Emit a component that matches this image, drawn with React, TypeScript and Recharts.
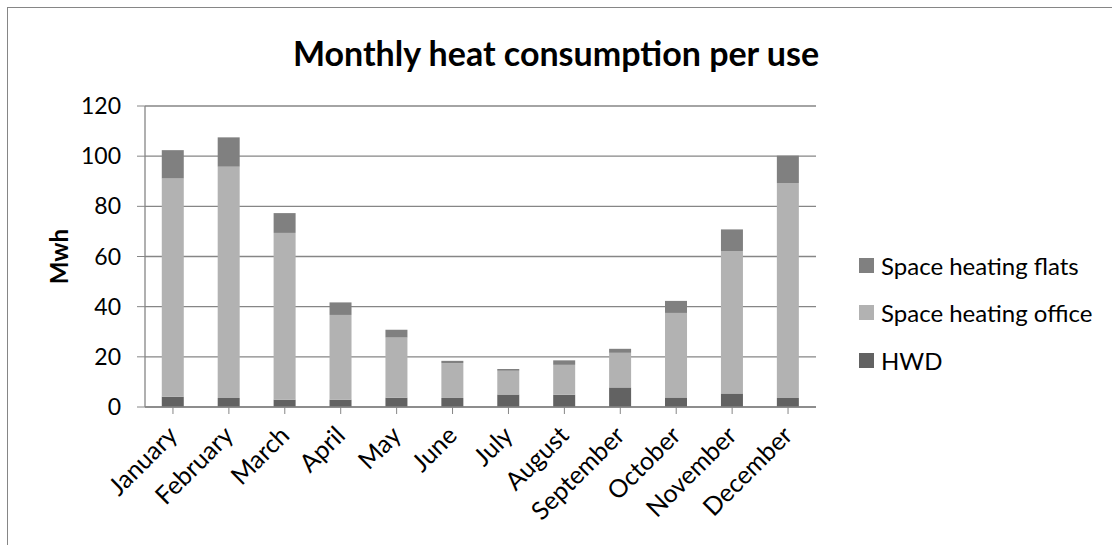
import { BarChart, Bar, XAxis, YAxis, CartesianGrid } from "recharts";

const months = [
  "January", "February", "March", "April", "May", "June",
  "July", "August", "September", "October", "November", "December",
];
const hwd = [4.1, 3.6, 2.9, 2.9, 3.7, 3.6, 5.0, 4.9, 7.8, 3.8, 5.4, 3.6];
const officeHeat = [87.0, 92.2, 66.5, 33.8, 24.0, 13.9, 9.5, 11.9, 13.8, 33.7, 56.8, 85.7];
const flatsHeat = [11.3, 11.7, 7.9, 5.0, 3.1, 0.9, 0.6, 1.8, 1.6, 4.8, 8.6, 10.9];
const yTicks = [0, 20, 40, 60, 80, 100, 120];

const FONT = "Lato, 'Noto Sans', sans-serif";
const AXIS = "#868686";

const series = [
  { key: "hwd", name: "HWD", color: "#626262" },
  { key: "office", name: "Space heating office", color: "#b2b2b2" },
  { key: "flats", name: "Space heating flats", color: "#808080" },
];

const data = months.map((m, i) => ({
  month: m,
  hwd: hwd[i],
  office: officeHeat[i],
  flats: flatsHeat[i],
}));

function MonthTick(props: any) {
  const { x, y, payload } = props;
  const px = x + 6;
  const py = y + 21;
  return (
    <text
      x={px}
      y={py}
      transform={`rotate(-45 ${px} ${py})`}
      textAnchor="end"
      fontSize={25}
      fontFamily={FONT}
      fill="#000"
    >
      {payload.value}
    </text>
  );
}

function MwhLabel(props: any) {
  const vb = props.viewBox || {};
  const cx = 58;
  const cy = vb.y + vb.height / 2;
  return (
    <text
      x={cx}
      y={cy}
      transform={`rotate(-90 ${cx} ${cy})`}
      textAnchor="middle"
      dominantBaseline="central"
      fontSize={24}
      fontWeight="bold"
      fontFamily={FONT}
      fill="#000"
    >
      Mwh
    </text>
  );
}

export default function App() {
  return (
    <div
      style={{
        position: "absolute",
        left: 0,
        top: 0,
        width: 1112,
        height: 545,
        background: "#fff",
        overflow: "hidden",
        fontFamily: FONT,
      }}
    >
      <div
        style={{
          position: "absolute",
          left: 7,
          top: 7,
          width: 1200,
          height: 600,
          border: `1px solid ${AXIS}`,
        }}
      />
      <div
        style={{
          position: "absolute",
          left: 0,
          top: 32,
          width: 1112,
          textAlign: "center",
          fontSize: 34,
          fontWeight: "bold",
          color: "#000",
        }}
      >
        Monthly heat consumption per use
      </div>
      <BarChart
        width={1112}
        height={545}
        data={data}
        margin={{ top: 106, right: 296, bottom: 0, left: 0 }}
        barCategoryGap="30%"
        style={{ position: "absolute", left: 0, top: 0 }}
      >
        <CartesianGrid vertical={false} stroke={AXIS} strokeWidth={1.3} />
        <XAxis
          dataKey="month"
          height={138}
          tickSize={7}
          stroke={AXIS}
          tickLine={{ stroke: AXIS }}
          axisLine={{ stroke: AXIS, strokeWidth: 1.3 }}
          tick={<MonthTick />}
          interval={0}
        />
        <YAxis
          width={145}
          domain={[0, 120]}
          ticks={yTicks}
          tickSize={8}
          tickMargin={16}
          stroke={AXIS}
          axisLine={{ stroke: AXIS, strokeWidth: 1.3 }}
          tick={{ fontSize: 23, fill: "#000", fontFamily: FONT }}
          label={<MwhLabel />}
        />
        {series.map((s) => (
          <Bar
            key={s.key}
            dataKey={s.key}
            name={s.name}
            stackId="a"
            fill={s.color}
            isAnimationActive={false}
          />
        ))}
      </BarChart>
      {[...series].reverse().map((s, i) => (
        <div
          key={s.key}
          style={{
            position: "absolute",
            left: 859,
            top: 265 + i * 47.5 - 15,
            height: 30,
            display: "flex",
            alignItems: "center",
            fontSize: 24,
            color: "#000",
            whiteSpace: "nowrap",
          }}
        >
          <span
            style={{
              width: 15,
              height: 15,
              background: s.color,
              marginRight: 7,
              display: "inline-block",
            }}
          />
          {s.name}
        </div>
      ))}
    </div>
  );
}
